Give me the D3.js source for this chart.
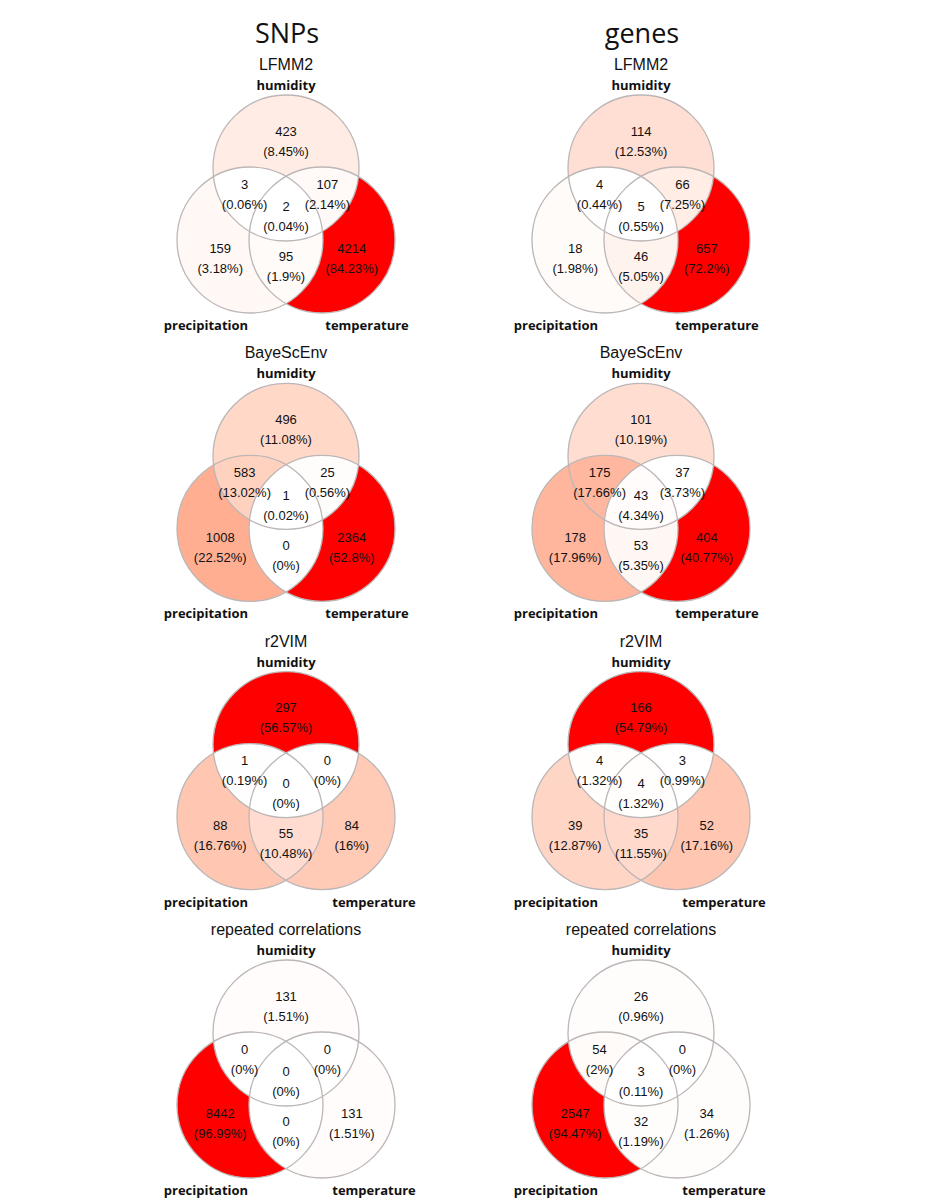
<!DOCTYPE html>
<html>
<head>
<meta charset="utf-8">
<script src="https://cdn.jsdelivr.net/npm/d3@7"></script>
<style>
  body { margin: 0; background: #fff; }
</style>
</head>
<body>
<script>
// data
var columns = ["SNPs", "genes"];
var methods = ["LFMM2", "BayeScEnv", "r2VIM", "repeated correlations"];
var sets = ["humidity", "precipitation", "temperature"];

// region order: H only, P only, T only, H&P, H&T, P&T, H&P&T
var regions = [[1,0,0], [0,1,0], [0,0,1], [1,1,0], [1,0,1], [0,1,1], [1,1,1]];

var snpCounts = [
  [423, 159, 4214, 3, 107, 95, 2],
  [496, 1008, 2364, 583, 25, 0, 1],
  [297, 88, 84, 1, 0, 55, 0],
  [131, 8442, 131, 0, 0, 0, 0]
];
var geneCounts = [
  [114, 18, 657, 4, 66, 46, 5],
  [101, 178, 404, 175, 37, 53, 43],
  [166, 39, 52, 4, 3, 35, 4],
  [26, 2547, 34, 54, 0, 32, 3]
];
var counts = { "SNPs": snpCounts, "genes": geneCounts };

// layout
var width = 927, height = 1200;
var r = 73;
var offsets = [[0, 0], [-36, 72], [36, 72]];   // humidity, precipitation, temperature centres
var tempDx = [0, 0, 7, 7];                     // temperature label nudged in lower rows
var colDx = [0, -5];

var x = d3.scalePoint().domain(columns).range([286, 641]);
var y = d3.scalePoint().domain(methods).range([168, 1033]);

var canvas = d3.select("body")
               .append("svg")
               .attr("width", width)
               .attr("height", height)
               .style("background", "#fff");

var defs = canvas.append("defs");

function fmtPct(v, total) {
  return "(" + (Math.round(v / total * 10000) / 100) + "%)";
}

// column headers
canvas.selectAll("text.col")
      .data(columns)
      .enter()
      .append("text")
      .attr("class", "col")
      .attr("x", function(d) { return x(d) + 1; })
      .attr("y", 43)
      .attr("text-anchor", "middle")
      .style("font-family", "'Open Sans', sans-serif")
      .style("font-size", "27px")
      .style("fill", "#111")
      .text(function(d) { return d; });

columns.forEach(function(col, ci) {
  methods.forEach(function(method, mi) {
    var cx = x(col), cy = y(method);
    var vals = counts[col][mi];
    var total = d3.sum(vals);
    var color = d3.scaleLinear()
                  .domain(d3.extent(vals))
                  .range(["white", "red"])
                  .interpolate(d3.interpolateLab);
    var id = "p" + ci + "_" + mi;
    var circ = offsets.map(function(o) { return [cx + o[0], cy + o[1]]; });

    var g = canvas.append("g");

    // one clip path per circle
    circ.forEach(function(c, k) {
      defs.append("clipPath")
          .attr("id", id + "c" + k)
          .append("circle")
          .attr("cx", c[0]).attr("cy", c[1]).attr("r", r);
    });

    // fill each region: clip by the sets it is in, mask out the others
    regions.forEach(function(reg, ri) {
      var ins = [], outs = [];
      reg.forEach(function(m, k) { (m ? ins : outs).push(k); });

      var mask = defs.append("mask").attr("id", id + "m" + ri);
      mask.append("rect")
          .attr("x", cx - 150).attr("y", cy - 150)
          .attr("width", 300).attr("height", 300)
          .attr("fill", "white");
      outs.forEach(function(k) {
        mask.append("circle")
            .attr("cx", circ[k][0]).attr("cy", circ[k][1]).attr("r", r)
            .attr("fill", "black");
      });

      var holder = g.append("g").attr("mask", "url(#" + id + "m" + ri + ")");
      ins.slice(1).forEach(function(k) {
        holder = holder.append("g").attr("clip-path", "url(#" + id + "c" + k + ")");
      });
      holder.append("circle")
            .attr("cx", circ[ins[0]][0]).attr("cy", circ[ins[0]][1]).attr("r", r)
            .attr("fill", color(vals[ri]));
    });

    // outlines
    g.selectAll("circle.edge")
     .data(circ)
     .enter()
     .append("circle")
     .attr("class", "edge")
     .attr("cx", function(d) { return d[0]; })
     .attr("cy", function(d) { return d[1]; })
     .attr("r", r)
     .attr("fill", "none")
     .attr("stroke", "#bcb6b6")
     .attr("stroke-width", 1.3);

    // region centroids by sampling the panel
    var acc = regions.map(function() { return [0, 0, 0]; });
    for (var px = cx - r - 40; px <= cx + r + 40; px += 1) {
      for (var py = cy - r; py <= cy + 72 + r; py += 1) {
        var mem = circ.map(function(c) {
          var dx = px - c[0], dy = py - c[1];
          return dx * dx + dy * dy <= r * r ? 1 : 0;
        });
        var ri = regions.findIndex(function(reg) {
          return reg[0] === mem[0] && reg[1] === mem[1] && reg[2] === mem[2];
        });
        if (ri >= 0) { acc[ri][0] += px; acc[ri][1] += py; acc[ri][2] += 1; }
      }
    }
    var cents = acc.map(function(a) { return [a[0] / a[2], a[1] / a[2]]; });

    var lab = g.selectAll("g.lab")
               .data(vals)
               .enter()
               .append("g")
               .attr("class", "lab")
               .attr("transform", function(d, i) {
                 return "translate(" + cents[i][0] + "," + (cents[i][1] + 3) + ")";
               })
               .style("font-family", "'Liberation Sans', Arial, sans-serif")
               .style("font-size", "13px")
               .style("fill", "#111");
    lab.append("text")
       .attr("text-anchor", "middle")
       .attr("y", -10)
       .attr("dy", "0.35em")
       .text(function(d) { return d; });
    lab.append("text")
       .attr("text-anchor", "middle")
       .attr("y", 10)
       .attr("dy", "0.35em")
       .text(function(d) { return fmtPct(d, total); });

    // method title and set names
    g.append("text")
     .attr("x", cx)
     .attr("y", cy - 98)
     .attr("text-anchor", "middle")
     .style("font-family", "'Liberation Sans', Arial, sans-serif")
     .style("font-size", "16px")
     .style("fill", "#111")
     .text(method);

    var setPos = [
      [cx, cy - 78],
      [cx - 80 + colDx[ci], cy + 162],
      [cx + 81 + colDx[ci] + tempDx[mi], cy + 162]
    ];
    g.selectAll("text.set")
     .data(sets)
     .enter()
     .append("text")
     .attr("class", "set")
     .attr("x", function(d, i) { return setPos[i][0]; })
     .attr("y", function(d, i) { return setPos[i][1]; })
     .attr("text-anchor", "middle")
     .style("font-family", "'Open Sans', sans-serif")
     .style("font-weight", "bold")
     .style("font-size", "13px")
     .style("fill", "#111")
     .text(function(d) { return d; });
  });
});
</script>
</body>
</html>
